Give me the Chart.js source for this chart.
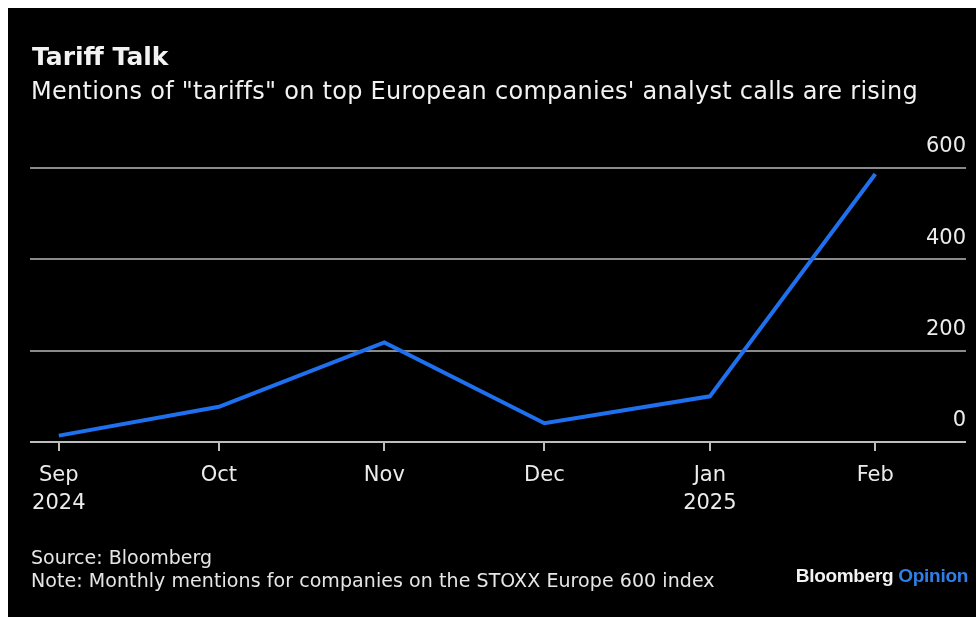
<!DOCTYPE html>
<html><head><meta charset="utf-8">
<script src="https://cdn.jsdelivr.net/npm/chart.js@4/dist/chart.umd.min.js"></script>
<style>
html,body{margin:0;padding:0;background:#fff;width:976px;height:617px;overflow:hidden;font-family:"DejaVu Sans",sans-serif;}
#panel{position:absolute;left:8px;top:8px;width:968px;height:609px;background:#000;}
#wrap{position:absolute;left:0;top:0;width:976px;height:617px;}
.t{position:absolute;white-space:nowrap;color:#f2f2f2;}
</style></head><body>
<div id="panel"></div>
<div id="wrap"><canvas id="c"></canvas></div>
<div class="t" style="left:32px;top:44px;font-size:25px;line-height:25px;font-weight:bold">Tariff Talk</div>
<div class="t" style="left:31px;top:79px;font-size:24px;line-height:24px;letter-spacing:0.27px">Mentions of "tariffs" on top European companies' analyst calls are rising</div>
<div class="t" style="left:31px;top:548px;font-size:19px;line-height:19px;color:#e6e6e6">Source: Bloomberg</div>
<div class="t" style="left:31px;top:571px;font-size:19px;line-height:19px;color:#e6e6e6;letter-spacing:0.07px">Note: Monthly mentions for companies on the STOXX Europe 600 index</div>
<div class="t" style="right:8px;top:566px;font-size:19px;line-height:19px;font-weight:bold;letter-spacing:-0.3px;font-family:'Liberation Sans',Arial,sans-serif"><span style="color:#f2f2f2">Bloomberg</span> <span style="color:#2f7fe6">Opinion</span></div>
<script>
// Data
const months = ['2024-09-01','2024-10-01','2024-11-01','2024-12-01','2025-01-01','2025-02-01'];
const tickLabels = [['Sep','2024'],'Oct','Nov','Dec',['Jan','2025'],'Feb'];
const mentions = [14, 77, 218, 41, 100, 587];
const yTicks = [0, 200, 400, 600];

const DAY = 86400000;
const t0 = Date.parse(months[0]);
const dayOffsets = months.map(m => Math.round((Date.parse(m) - t0) / DAY));
const points = dayOffsets.map((d, i) => ({x: d, y: mentions[i]}));
const FONT = '"DejaVu Sans", sans-serif';

new Chart(document.getElementById('c'), {
  type: 'line',
  data: {
    datasets: [{
      data: points,
      borderColor: '#1f70ee',
      borderWidth: 4,
      pointRadius: 0,
      tension: 0,
      fill: false
    }]
  },
  options: {
    responsive: true,
    maintainAspectRatio: false,
    animation: false,
    devicePixelRatio: 1,
    layout: {padding: {left: 30, right: 10, top: 168, bottom: 95}},
    plugins: {legend: {display: false}, tooltip: {enabled: false}},
    scales: {
      x: {
        type: 'linear',
        min: -5.4,
        max: 170,
        afterBuildTicks: s => { s.ticks = dayOffsets.map(v => ({value: v})); },
        afterFit: s => { s.height = 80; },
        border: {display: false},
        grid: {drawOnChartArea: false, drawTicks: true, tickLength: 9, color: '#bdbdbd', lineWidth: 2},
        ticks: {
          autoSkip: false, maxRotation: 0, minRotation: 0, padding: 10,
          color: '#ececec',
          font: {family: FONT, size: 21, lineHeight: 1.35},
          callback: v => { const i = dayOffsets.indexOf(v); return i >= 0 ? tickLabels[i] : ''; }
        }
      },
      y: {
        position: 'right',
        min: 0,
        max: 600,
        afterBuildTicks: s => { s.ticks = yTicks.map(v => ({value: v})); },
        border: {display: false},
        grid: {drawTicks: false, lineWidth: 2, color: c => (c.tick && c.tick.value === 0) ? '#bdbdbd' : '#8a8a8a'},
        ticks: {
          mirror: true, padding: 0, labelOffset: -21,
          color: '#ececec',
          font: {family: FONT, size: 21}
        }
      }
    }
  }
});
</script>
</body></html>
